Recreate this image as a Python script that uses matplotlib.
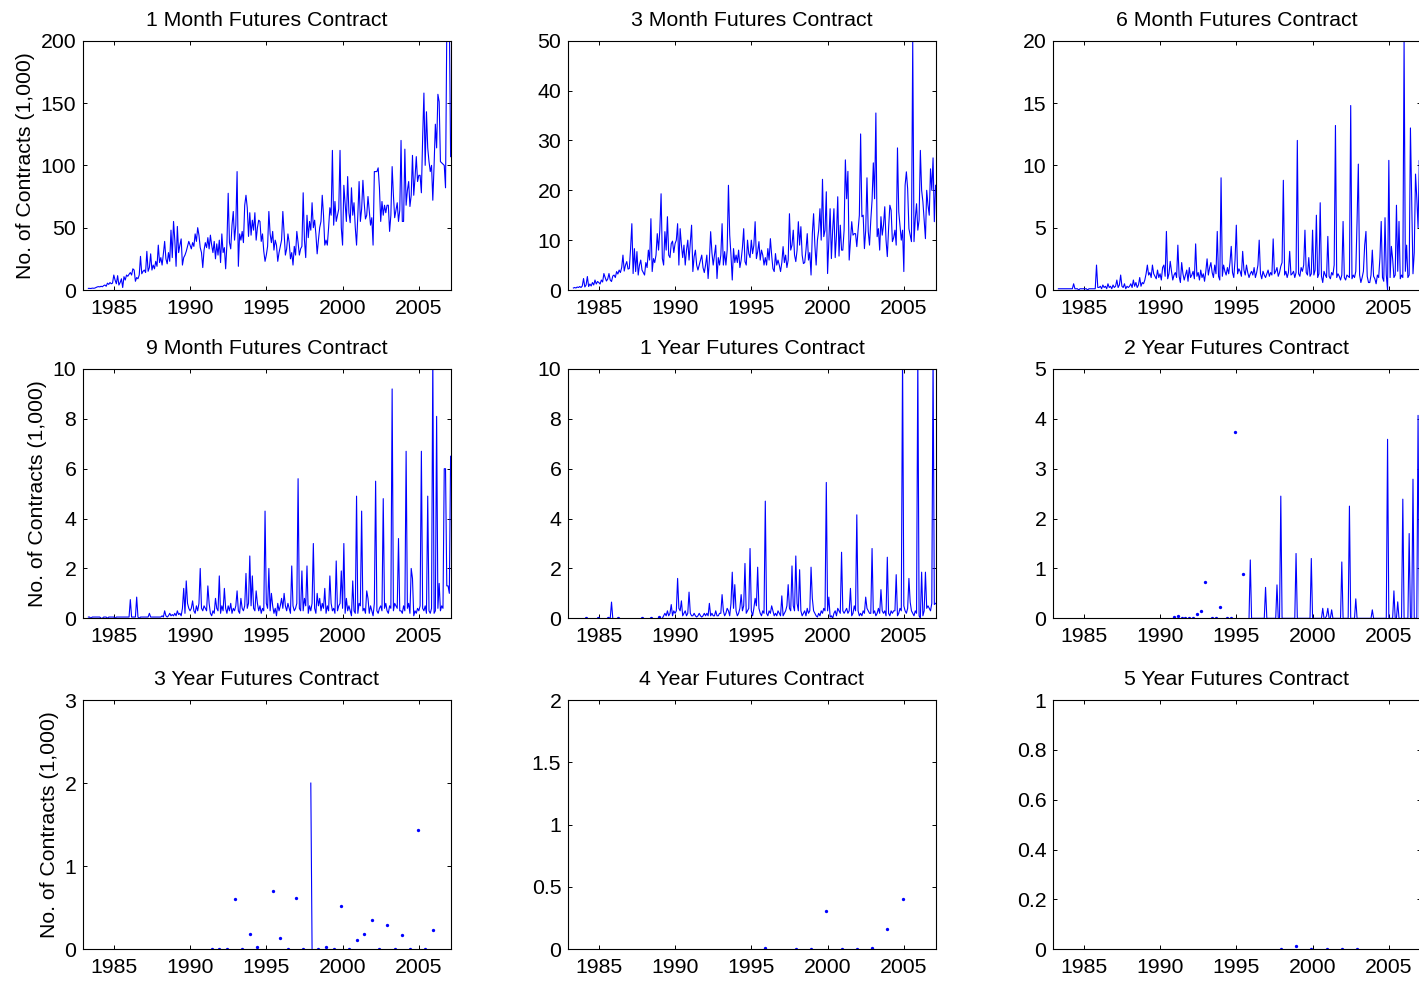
import numpy as np
import matplotlib
matplotlib.use("Agg")
import matplotlib.pyplot as plt
from matplotlib.ticker import FuncFormatter

nan = np.nan

# monthly data, May 1983 .. Feb 2007 (thousands of contracts)
n_months = 286
t = 1983 + (4 + np.arange(n_months)) / 12.0

m1_start = "1983-05"
m1_vals = [
    1.3, 1.3, 1.2, 1.5, 1.4, 1.5, 2.0, 2.5,
    2.7, 2.5, 3.0, 2.6, 3.5, 4.0, 3.0, 5.5, 4.5, 6.0, 5.0, 5.5,
    12.0, 8.0, 5.0, 11.5, 4.0, 6.0, 9.0, 2.0, 10.7, 8.0, 12.0, 11.0,
    12.6, 14.0, 12.0, 17.0, 16.0, 7.0, 10.0, 9.0, 12.0, 27.0, 13.0, 15.0,
    16.0, 14.0, 31.0, 15.0, 18.0, 29.0, 16.0, 20.0, 17.0, 23.0, 19.0, 36.0,
    22.0, 26.0, 20.0, 29.0, 39.0, 25.0, 21.0, 30.0, 23.0, 48.0, 26.0, 55.0,
    40.0, 19.0, 51.0, 30.0, 36.0, 41.0, 20.0, 26.0, 28.0, 31.0, 35.0, 39.0,
    36.0, 33.0, 38.0, 35.0, 45.0, 39.0, 50.0, 44.0, 34.0, 30.0, 18.0, 32.0,
    38.0, 34.0, 42.0, 33.0, 44.0, 36.0, 30.0, 39.0, 25.0, 37.0, 28.0, 40.0,
    22.0, 45.0, 30.0, 34.0, 17.0, 37.0, 77.6, 38.0, 33.0, 52.0, 63.0, 40.0,
    52.0, 95.0, 19.0, 45.0, 40.0, 47.0, 38.0, 68.0, 76.0, 66.0, 43.0, 62.0,
    44.0, 56.0, 48.0, 62.0, 40.0, 50.0, 56.0, 55.0, 39.0, 45.0, 31.0, 23.0,
    28.0, 35.0, 63.0, 45.0, 38.0, 47.0, 32.0, 40.0, 36.0, 23.0, 30.0, 35.0,
    40.0, 63.0, 45.0, 28.0, 33.0, 45.0, 38.0, 25.0, 30.0, 20.0, 35.0, 28.0,
    47.0, 38.0, 28.0, 33.0, 35.0, 78.0, 40.0, 26.0, 60.0, 42.0, 55.0, 48.0,
    70.0, 50.0, 56.0, 45.0, 29.0, 40.0, 50.0, 55.0, 76.0, 60.0, 36.0, 40.0,
    36.0, 50.0, 66.0, 60.0, 112.0, 52.0, 71.0, 55.0, 60.0, 65.0, 112.0, 50.0,
    36.0, 84.0, 70.0, 55.0, 91.0, 62.0, 54.0, 82.0, 60.0, 70.0, 50.0, 36.0,
    60.0, 87.0, 55.0, 65.0, 88.0, 70.0, 57.0, 60.0, 75.0, 63.0, 52.0, 58.0,
    36.0, 95.0, 95.0, 95.0, 98.0, 82.0, 55.0, 71.0, 60.0, 68.0, 62.0, 68.0,
    68.0, 47.0, 60.0, 99.0, 76.0, 58.0, 64.0, 70.0, 55.0, 64.0, 120.0, 55.0,
    55.0, 113.0, 68.0, 80.0, 87.0, 67.0, 76.0, 108.0, 76.0, 90.0, 107.0, 87.0,
    92.0, 92.0, 78.0, 122.0, 158.0, 100.0, 143.0, 114.0, 103.0, 95.0, 100.0, 72.0,
    100.0, 133.0, 114.0, 157.0, 151.0, 103.0, 102.0, 101.0, 100.0, 82.0, 210.0, 230.0,
    220.0, 107.0,
]

m3_start = "1983-05"
m3_vals = [
    0.4, 0.5, 0.4, 0.6, 0.5, 0.7, 0.5, 0.8,
    2.3, 0.6, 1.0, 2.7, 0.7, 1.2, 0.8, 1.5, 1.0, 2.0, 1.2, 1.7,
    1.5, 1.2, 2.0, 1.6, 3.3, 2.5, 1.8, 2.2, 3.3, 2.0, 1.7, 2.8,
    3.0, 2.5, 3.7, 3.2, 4.0, 3.5, 4.5, 7.0, 3.8, 5.0, 5.7, 4.2,
    4.3, 8.3, 13.3, 3.3, 8.3, 3.7, 7.7, 3.0, 5.0, 6.0, 4.0, 3.5,
    3.0, 5.5, 4.5, 8.0, 6.0, 14.3, 3.7, 6.3, 5.5, 7.0, 11.3, 8.0,
    12.0, 19.3, 6.3, 5.0, 11.7, 8.0, 14.7, 7.0, 6.5, 9.3, 9.8, 7.5,
    9.3, 10.0, 13.3, 5.0, 12.3, 9.0, 6.5, 9.0, 5.0, 8.0, 10.0, 6.0,
    9.5, 13.0, 3.7, 6.7, 8.0, 5.0, 4.0, 5.0, 6.0, 7.0, 4.5, 3.5,
    5.0, 7.0, 2.3, 6.0, 11.7, 7.5, 5.0, 7.0, 9.0, 2.3, 6.5, 5.0,
    7.0, 13.3, 5.0, 7.7, 5.0, 8.0, 21.0, 11.0, 7.0, 2.0, 8.3, 5.5,
    7.0, 5.5, 8.0, 4.5, 6.0, 8.5, 12.3, 5.7, 5.0, 10.0, 7.3, 6.5,
    10.0, 7.3, 9.0, 13.7, 6.3, 7.7, 9.7, 6.0, 8.0, 7.0, 5.0, 6.5,
    5.0, 8.3, 6.0, 10.3, 7.0, 4.3, 3.7, 7.3, 5.0, 6.0, 5.0, 3.7,
    5.5, 8.7, 5.5, 7.0, 4.5, 6.0, 15.3, 8.0, 9.0, 12.0, 7.0, 5.7,
    8.0, 13.7, 9.0, 12.7, 7.0, 5.3, 5.5, 8.0, 11.3, 6.0, 7.5, 3.0,
    11.3, 15.3, 9.0, 5.0, 10.0, 12.0, 16.3, 10.0, 22.2, 10.7, 12.0, 19.7,
    3.3, 10.0, 16.3, 6.3, 12.0, 16.3, 6.5, 11.0, 18.7, 6.8, 13.0, 8.0,
    8.0, 12.0, 26.1, 18.3, 23.8, 6.0, 10.0, 13.7, 11.0, 11.3, 11.3, 8.7,
    12.0, 15.0, 31.3, 14.7, 15.0, 8.3, 12.0, 22.5, 11.7, 9.0, 14.0, 18.0,
    25.5, 18.3, 35.5, 10.7, 12.3, 8.0, 14.7, 11.0, 13.0, 16.7, 10.0, 6.7,
    12.3, 17.0, 16.0, 9.7, 10.5, 12.0, 9.0, 28.5, 15.7, 12.9, 10.0, 12.0,
    3.7, 21.0, 23.7, 20.3, 12.3, 11.0, 9.7, 50.0, 9.7, 14.3, 17.3, 12.0,
    14.0, 28.0, 20.0, 17.7, 14.0, 10.3, 20.0, 17.0, 15.0, 24.3, 20.0, 26.5,
    13.7, 21.0,
]

m6_start = "1983-05"
m6_vals = [
    0.1, 0.1, 0.1, 0.1, 0.1, 0.1, 0.1, 0.1,
    0.1, 0.1, 0.1, 0.1, 0.5, 0.1, 0.1, 0.1, 0.0, 0.1, 0.1, 0.1,
    0.1, 0.1, 0.1, 0.0, 0.1, 0.1, 0.1, 0.1, 0.1, 0.1, 2.0, 0.2,
    0.2, 0.3, 0.1, 0.4, 0.2, 0.3, 0.1, 0.5, 0.2, 0.3, 0.1, 0.4,
    0.2, 0.3, 0.8, 0.2, 0.4, 1.2, 0.3, 0.2, 0.5, 0.1, 0.3, 0.2,
    0.3, 0.5, 0.2, 0.8, 0.3, 0.6, 0.2, 0.4, 1.0, 0.3, 0.6, 0.5,
    0.8, 1.3, 2.0, 1.2, 1.4, 1.0, 2.0, 1.3, 1.1, 0.9, 1.6, 1.0,
    1.3, 0.8, 1.8, 2.0, 1.1, 4.7, 0.9, 1.3, 2.3, 1.5, 0.8, 1.2,
    1.4, 1.0, 3.6, 1.1, 0.6, 2.2, 1.3, 0.8, 1.2, 1.6, 0.7, 1.8,
    1.0, 1.2, 1.5, 0.9, 3.7, 1.1, 1.4, 0.8, 1.6, 1.0, 1.3, 0.7,
    1.5, 2.5, 1.2, 1.8, 2.2, 1.4, 1.0, 2.0, 1.3, 4.7, 1.1, 0.8,
    9.0, 1.1, 2.0, 1.5, 1.2, 1.8, 1.3, 2.2, 3.5, 1.4, 1.0, 2.4,
    5.2, 1.3, 1.7, 1.5, 1.1, 3.1, 1.6, 1.2, 2.0, 1.4, 1.0, 1.3,
    1.5, 1.2, 1.8, 1.0, 1.4, 2.0, 4.0, 1.3, 0.9, 1.5, 1.2, 1.0,
    1.3, 1.6, 1.1, 1.4, 1.2, 4.1, 1.3, 1.5, 1.8, 1.1, 1.4, 1.9,
    2.2, 8.8, 1.2, 1.5, 1.0, 1.4, 3.1, 1.2, 1.3, 1.5, 1.0, 1.4,
    12.0, 1.3, 1.1, 1.8, 1.5, 2.0, 4.8, 1.4, 1.2, 2.6, 1.1, 1.3,
    4.8, 1.2, 1.6, 6.0, 1.0, 1.3, 7.0, 1.1, 0.6, 1.5, 1.2, 1.0,
    4.3, 1.1, 0.9, 1.4, 1.2, 2.0, 13.2, 1.0, 1.3, 1.1, 0.8, 1.2,
    5.5, 1.0, 0.8, 1.2, 1.1, 1.0, 14.8, 0.9, 1.2, 1.0, 1.5, 5.5,
    10.1, 1.2, 0.6, 1.0, 1.5, 3.6, 4.7, 1.1, 0.6, 0.6, 1.2, 3.2,
    1.1, 0.9, 0.5, 1.2, 1.0, 2.6, 5.5, 1.0, 0.7, 5.8, 1.2, 0.0,
    10.4, 1.0, 3.5, 2.5, 1.0, 1.2, 6.8, 1.5, 5.5, 0.9, 1.2, 1.0,
    20.0, 1.5, 3.6, 1.0, 1.2, 13.0, 7.2, 1.3, 3.0, 9.3, 7.4, 5.0,
    10.4, 8.0,
]

m9_start = "1983-05"
m9_vals = [
    0.05, 0.05, 0.0, 0.05, 0.05, 0.05, 0.05, 0.05,
    0.05, 0.05, 0.0, 0.0, 0.05, 0.05, 0.05, 0.0, 0.05, 0.05, 0.05, 0.05,
    0.05, 0.0, 0.05, 0.05, 0.05, 0.05, 0.05, 0.05, 0.05, 0.05, 0.05, 0.05,
    0.05, 0.75, 0.05, 0.05, 0.05, 0.05, 0.85, 0.05, 0.0, 0.05, 0.05, 0.05,
    0.05, 0.05, 0.05, 0.05, 0.2, 0.05, 0.05, 0.05, 0.05, 0.05, 0.05, 0.05,
    0.05, 0.05, 0.1, 0.05, 0.3, 0.1, 0.05, 0.1, 0.2, 0.1, 0.15, 0.1,
    0.2, 0.1, 0.3, 0.15, 0.2, 0.1, 0.4, 1.2, 0.2, 1.5, 0.6, 0.4,
    0.3, 0.4, 0.7, 0.3, 0.2, 0.5, 0.3, 0.6, 2.0, 0.4, 0.3, 0.5,
    0.4, 0.3, 1.3, 0.6, 0.2, 0.1, 0.3, 0.2, 0.8, 0.4, 0.3, 1.7,
    0.2, 0.5, 0.3, 1.2, 0.4, 0.2, 0.5, 0.3, 0.6, 0.2, 0.4, 0.3,
    0.5, 1.1, 0.3, 0.2, 0.8, 0.4, 0.3, 0.5, 1.8, 0.4, 0.6, 2.5,
    0.5, 1.7, 0.4, 0.3, 1.1, 0.6, 0.3, 0.5, 0.2, 0.4, 0.3, 4.3,
    0.6, 0.4, 2.0, 0.3, 1.0, 0.5, 0.2, 0.4, 0.1, 0.6, 0.3, 0.5,
    0.8, 0.4, 1.0, 0.5, 0.3, 0.6, 0.4, 0.2, 2.1, 0.5, 0.3, 0.4,
    0.6, 5.6, 0.4, 0.3, 1.9, 0.3, 0.8, 0.5, 2.1, 0.2, 0.5, 0.3,
    0.6, 3.0, 0.4, 0.2, 1.0, 0.5, 0.8, 0.3, 0.6, 0.4, 1.2, 0.2,
    0.5, 0.3, 1.7, 0.6, 0.3, 0.4, 0.2, 2.3, 0.3, 0.5, 0.6, 1.9,
    0.4, 3.0, 0.2, 0.8, 0.3, 0.5, 0.3, 0.1, 1.5, 0.3, 0.2, 4.9,
    0.2, 0.6, 0.5, 4.3, 0.3, 0.4, 0.2, 1.1, 0.8, 0.2, 0.5, 0.3,
    0.1, 0.6, 5.5, 0.3, 0.2, 0.4, 0.5, 0.3, 4.8, 0.4, 0.6, 0.3,
    0.2, 0.5, 0.4, 9.2, 0.3, 0.6, 0.5, 0.4, 3.2, 0.3, 0.3, 0.2,
    0.5, 0.3, 6.7, 0.4, 0.6, 0.2, 2.0, 1.6, 0.1, 0.3, 0.2, 0.4,
    0.3, 0.5, 6.7, 0.4, 0.3, 0.5, 0.2, 4.9, 0.3, 0.2, 0.4, 10.5,
    0.2, 0.3, 8.1, 0.4, 1.4, 0.3, 0.5, 0.4, 6.0, 6.0, 1.3, 1.3,
    1.0, 6.5,
]

# 1 year: scattered early observations, continuous from Mar 1989
y1_dates = ["1984-03", "1984-12", "1985-08", "1985-10", "1985-11", "1985-12",
            "1986-04", "1987-11", "1988-06", "1988-12"]
y1_pts = [0.0, 0.0, 0.0, 0.0, 0.65, 0.0, 0.0, 0.0, 0.0, 0.05]
y1_start = "1989-03"
y1_vals = [
    0.0, 0.1, 0.2, 0.1, 0.3, 0.1, 0.2, 0.55, 0.1, 0.3,
    0.2, 0.3, 1.6, 0.4, 0.3, 0.7, 0.1, 0.2, 0.3, 0.1, 0.2, 1.05,
    0.2, 0.1, 0.1, 0.2, 0.1, 0.05, 0.1, 0.2, 0.1, 0.05, 0.1, 0.2,
    0.1, 0.2, 0.1, 0.6, 0.1, 0.2, 0.1, 0.1, 0.3, 0.1, 0.1, 0.2,
    0.2, 0.95, 0.3, 0.1, 0.2, 0.4, 0.3, 0.1, 0.6, 1.85, 0.4, 1.35,
    0.3, 0.1, 0.2, 0.4, 0.95, 0.3, 0.5, 2.2, 0.2, 0.3, 0.4, 2.8,
    0.3, 0.1, 0.4, 0.8, 0.5, 2.05, 0.4, 0.2, 0.1, 0.3, 0.2, 4.7,
    0.2, 0.1, 0.3, 0.2, 0.5, 0.3, 0.1, 0.2, 0.1, 0.3, 0.2, 0.1,
    0.9, 0.1, 0.2, 0.3, 0.5, 1.35, 0.4, 0.3, 2.1, 0.5, 0.3, 2.5,
    0.6, 0.3, 1.95, 0.3, 0.1, 0.2, 0.3, 0.1, 0.4, 0.2, 0.3, 2.05,
    0.8, 0.3, 0.2, 0.1, 0.05, 0.2, 0.1, 0.3, 0.2, 0.4, 0.3, 5.45,
    0.3, 0.85, 0.05, 0.1, 0.0, 0.2, 0.3, 0.1, 0.4, 0.3, 0.2, 2.65,
    0.3, 0.2, 0.3, 0.4, 0.2, 0.3, 1.2, 0.1, 0.2, 0.5, 0.3, 4.15,
    0.3, 0.1, 0.2, 0.1, 0.3, 0.2, 0.85, 0.4, 0.3, 0.2, 0.2, 2.8,
    0.2, 0.3, 0.1, 0.2, 0.4, 0.2, 1.15, 0.3, 0.2, 0.3, 0.1, 2.45,
    0.2, 0.1, 0.3, 0.2, 0.3, 0.3, 1.75, 0.1, 0.2, 0.4, 0.3, 10.5,
    0.5, 0.3, 0.2, 0.4, 1.6, 0.65, 0.3, 0.2, 0.1, 0.3, 0.2, 10.5,
    0.1, 0.0, 1.85, 0.1, 0.3, 1.85, 0.4, 0.5, 0.4, 0.3, 0.6, 10.5,
    0.55, 0.6,
]

# 2 year: quarterly observations, continuous from Nov 1995
y2_dates = ["1990-12", "1991-03", "1991-06", "1991-09", "1991-12", "1992-03",
            "1992-06", "1992-09", "1992-12", "1993-06", "1993-09", "1993-12",
            "1994-06", "1994-09", "1994-12", "1995-06"]
y2_pts = [0.02, 0.05, 0.0, 0.0, 0.0, 0.0, 0.09, 0.15, 0.73, 0.0, 0.0, 0.22,
          0.0, 0.0, 3.73, 0.89]
y2_start = "1995-11"
y2_vals = [
    0, 1.17,
    0, 0, 0, 0, 0, 0, 0, 0, 0, 0, 0, 0.62,
    0, 0, 0, 0, 0, 0, 0, 0, 0.67, 0, 0, 2.45,
    0, 0, 0, 0, 0, 0, 0, 0, 0, 0, 0, 1.3,
    0, 0, 0, 0, 0, 0, 0, 0, 0, 0, 0, 1.2,
    0, 0, 0, 0, 0, 0, 0, 0, 0.2, 0, 0, 0.05,
    0.2, 0, 0, 0.17, 0, 0, 0, 0, 0, 0, 0, 1.13,
    0, 0, 0, 0, 0, 2.25, 0, 0, 0, 0, 0.39, 0,
    0, 0, 0, 0, 0, 0, 0, 0, 0, 0, 0, 0.17,
    0, 0, 0, 0, 0, 0, 0, 0, 0, 0, 0, 3.59,
    0, 0, 0, 0, 0.55, 0, 0, 0.33, 0, 0, 0, 2.39,
    0, 0, 0, 0, 1.7, 0, 0, 2.79, 0, 0, 0, 4.07,
    0, 0,
]

y3_dates = ["1991-06", "1991-12", "1992-06", "1992-12", "1993-06", "1993-12",
            "1994-06", "1995-06", "1995-12", "1996-06", "1996-12", "1997-06",
            "1997-12", "1998-01", "1998-06", "1998-12", "1999-06", "1999-12",
            "2000-06", "2000-12", "2001-06", "2001-12", "2002-06", "2002-12",
            "2003-06", "2003-12", "2004-06", "2004-12", "2005-06", "2005-12"]
y3_pts = [0.0, 0.0, 0.0, 0.6, 0.0, 0.19, 0.03, 0.7, 0.13, 0.0, 0.62, 0.0,
          2.0, 0.0, 0.0, 0.03, 0.0, 0.52, 0.0, 0.11, 0.19, 0.35, 0.0, 0.29,
          0.0, 0.17, 0.0, 1.43, 0.0, 0.23]

y4_dates = ["1995-12", "1997-12", "1998-12", "1999-12", "2000-12", "2001-12",
            "2002-12", "2003-12", "2004-12"]
y4_pts = [0.013, 0.0, 0.0, 0.31, 0.0, 0.0, 0.013, 0.16, 0.40]

y5_dates = ["1997-12", "1998-12", "1999-12", "2000-12", "2001-12", "2002-12"]
y5_pts = [0.0, 0.013, 0.0, 0.0, 0.0, 0.0]


def month_idx(s):
    yy, mm = s.split("-")
    return (int(yy) - 1983) * 12 + int(mm) - 5


def block(start, vals):
    out = np.full(n_months, nan)
    i = month_idx(start)
    out[i:i + len(vals)] = vals
    return out


def points(dates, vals):
    out = np.full(n_months, nan)
    for d, v in zip(dates, vals):
        out[month_idx(d)] = v
    return out


def merge(a, b):
    return np.where(np.isnan(a), b, a)


panels = [
    ("1 Month Futures Contract", block(m1_start, m1_vals), 200, 50),
    ("3 Month Futures Contract", block(m3_start, m3_vals), 50, 10),
    ("6 Month Futures Contract", block(m6_start, m6_vals), 20, 5),
    ("9 Month Futures Contract", block(m9_start, m9_vals), 10, 2),
    ("1 Year Futures Contract", merge(points(y1_dates, y1_pts), block(y1_start, y1_vals)), 10, 2),
    ("2 Year Futures Contract", merge(points(y2_dates, y2_pts), block(y2_start, y2_vals)), 5, 1),
    ("3 Year Futures Contract", points(y3_dates, y3_pts), 3, 1),
    ("4 Year Futures Contract", points(y4_dates, y4_pts), 2, 0.5),
    ("5 Year Futures Contract", points(y5_dates, y5_pts), 1, 0.2),
]

plt.rcParams['font.family'] = ['Liberation Sans', 'DejaVu Sans']
fs = 15.3

W, H = 1419, 981
fig = plt.figure(figsize=(W / 100, H / 100), dpi=100)
fig.patch.set_facecolor('white')

col_left = [83.3, 568.3, 1053.3]
row_top = [40.7, 369.0, 700.0]
ax_w, ax_h = 367.3, 249.3

for k, (title, y, ymax, ystep) in enumerate(panels):
    r, c = divmod(k, 3)
    ax = fig.add_axes([col_left[c] / W, 1 - (row_top[r] + ax_h) / H, ax_w / W, ax_h / H])
    ax.plot(t, y, color='b', lw=0.8)
    fin = np.isfinite(y)
    prev = np.r_[False, fin[:-1]]
    nxt = np.r_[fin[1:], False]
    iso = fin & ~prev & ~nxt
    ax.plot(t[iso], y[iso], 'o', color='b', ms=2.4, mec='none')

    ax.set_xlim(1983.0, 2007.083)
    ax.set_ylim(0, ymax)
    ax.set_xticks([1985, 1990, 1995, 2000, 2005])
    ax.set_yticks(np.arange(0, ymax + ystep / 2, ystep))
    ax.yaxis.set_major_formatter(FuncFormatter(lambda v, p: '%g' % v))
    ax.tick_params(direction='in', top=True, right=True, length=3, width=0.7,
                   labelsize=fs, colors='black')
    ax.tick_params(axis='x', pad=6.5)
    ax.tick_params(axis='y', pad=5)
    for s in ax.spines.values():
        s.set_linewidth(0.8)
        s.set_color('black')
    ax.set_title(title, fontsize=fs, pad=10.5)
    if c == 0:
        ax.set_ylabel("No. of Contracts (1,000)", fontsize=fs, labelpad=4)

fig.savefig("out.png", dpi=100, facecolor='white')
